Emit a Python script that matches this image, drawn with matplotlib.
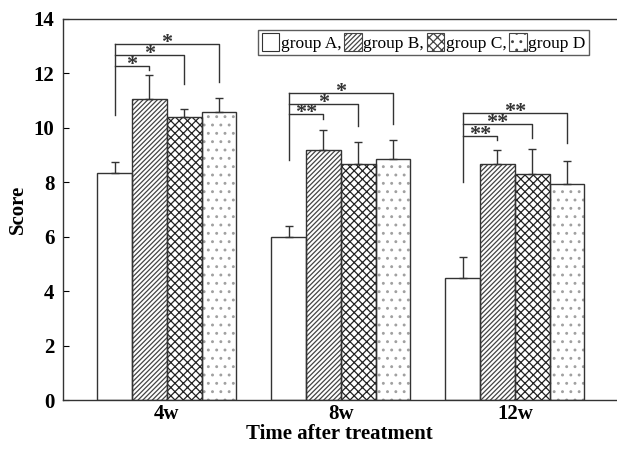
import numpy as np
import matplotlib
matplotlib.use("Agg")
import matplotlib.pyplot as plt
from matplotlib.patches import Patch

plt.rcParams['font.family'] = ['Liberation Serif', 'DejaVu Serif']
plt.rcParams['hatch.linewidth'] = 0.9

# ---- data ----
times = ['4w', '8w', '12w']
groups = ['group A,', 'group B,', 'group C,', 'group D']
mean_A = [8.33, 5.98, 4.50]
mean_B = [11.06, 9.19, 8.66]
mean_C = [10.39, 8.66, 8.29]
mean_D = [10.57, 8.85, 7.95]
sd_A = [0.41, 0.41, 0.74]
sd_B = [0.87, 0.73, 0.53]
sd_C = [0.29, 0.82, 0.93]
sd_D = [0.54, 0.69, 0.82]

# significance brackets (A vs B, A vs C, A vs D) per time point
sig_labels = [['*', '*', '*'], ['**', '*', '*'], ['**', '**', '**']]
bracket_y = [[12.26, 12.68, 13.07], [10.50, 10.89, 11.29], [9.71, 10.13, 10.54]]
drop_end = [[12.13, 11.60, 11.70], [10.32, 10.08, 10.13], [9.55, 9.62, 9.46]]
left_end = [10.47, 8.80, 8.00]

means = [mean_A, mean_B, mean_C, mean_D]
sds = [sd_A, sd_B, sd_C, sd_D]
hatches = [None, '///////', 'xxxx', '..']
hatch_cols = ['white', '#444444', '#222222', '#a0a0a0']

fig = plt.figure(figsize=(6.17, 4.5), dpi=100)
ax = fig.add_axes([0.1016, 0.111, 0.8964, 0.847])

x = np.arange(len(times))
w = 0.2
offs = [-1.5 * w, -0.5 * w, 0.5 * w, 1.5 * w]

for i in range(4):
    xpos = x + offs[i]
    if hatches[i] is not None:
        ax.bar(xpos, means[i], w, color='white', edgecolor=hatch_cols[i],
               hatch=hatches[i], linewidth=0, zorder=2)
    ax.bar(xpos, means[i], w, fill=False, edgecolor='#333333',
           linewidth=1.0, zorder=3)
    ax.errorbar(xpos, means[i], yerr=[np.zeros(3), sds[i]], fmt='none',
                ecolor='#333333', elinewidth=1.0, capsize=2.6, capthick=1.0,
                zorder=4)

# brackets
for j in range(3):
    xa = x[j] + offs[0]
    ax.plot([xa, xa], [left_end[j], bracket_y[j][2]], color='#333333', lw=1.0)
    for k in range(3):
        xb = x[j] + offs[k + 1]
        yb = bracket_y[j][k]
        ax.plot([xa, xb, xb], [yb, yb, drop_end[j][k]], color='#333333', lw=1.0)
        ax.text((xa + xb) / 2, yb - 0.15, sig_labels[j][k], ha='center',
                va='baseline', fontsize=16, fontweight='bold', color='#333333')

ax.set_xlim(-0.598, 2.58)
ax.set_ylim(0, 14)
ax.set_yticks(np.arange(0, 15, 2))
ax.set_xticks(x)
ax.set_xticklabels(times, fontsize=15, fontweight='bold')
ax.set_yticklabels([str(v) for v in range(0, 15, 2)], fontsize=15,
                   fontweight='bold')
ax.tick_params(axis='y', direction='in', length=4, width=0.8, pad=6)
ax.tick_params(axis='x', length=0, pad=3)
for s in ax.spines.values():
    s.set_linewidth(1.0)
    s.set_color('#333333')
ax.spines['right'].set_visible(False)

ax.set_xlabel('Time after treatment', fontsize=15, fontweight='bold',
              labelpad=0)
ax.set_ylabel('Score', fontsize=15, fontweight='bold', labelpad=4)

handles = []
for i in range(4):
    if hatches[i] is None:
        handles.append(Patch(facecolor='white', edgecolor='#333333', lw=0.8))
    else:
        handles.append(Patch(facecolor='white', edgecolor='#444444',
                             hatch=hatches[i], lw=0.8))
leg = ax.legend(handles, groups, ncol=4, loc='upper left',
                bbox_to_anchor=(0.354, 0.972), fontsize=12.5,
                handlelength=1.0, handleheight=1.2, handletextpad=0.1,
                columnspacing=0.15, borderpad=0.2, borderaxespad=0,
                fancybox=False, frameon=True)
leg.get_frame().set_edgecolor('#333333')
leg.get_frame().set_linewidth(1.0)

fig.savefig('out.png', dpi=100)
